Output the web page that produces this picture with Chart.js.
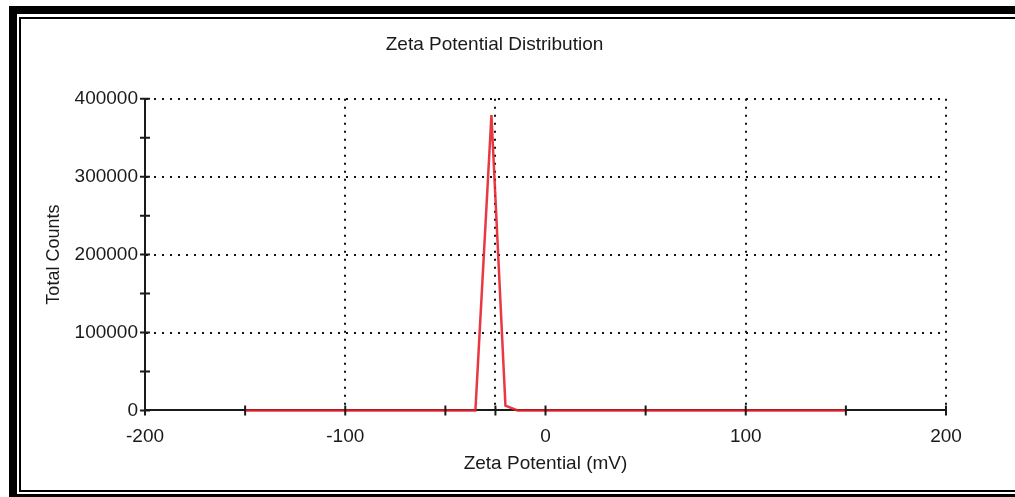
<!DOCTYPE html>
<html>
<head>
<meta charset="utf-8">
<script src="https://cdn.jsdelivr.net/npm/chart.js@4.4.1/dist/chart.umd.min.js"></script>
<style>
    body { margin: 0; background: #fff; overflow: hidden; width: 1015px; height: 497px; position: relative; }
    .frame-outer { position: absolute; left: 9px; top: 6px; width: 1100px; height: 496px; border: 8px solid #000; border-right: none; box-sizing: border-box; }
    .frame-inner { position: absolute; left: 19px; top: 17px; width: 1100px; height: 475px; border: 2px solid #000; border-right: none; box-sizing: border-box; }
    #chart1 { position: absolute; left: 0; top: 0; }
</style>
</head>
<body>
<div class="frame-outer"></div>
<div class="frame-inner"></div>
<canvas id="chart1" width="990" height="497"></canvas>
<script>
// data
const zetaMv = [-150, -35, -27, -20, -14, 150];
const totalCounts = [0, 0, 379000, 6000, 0, 0];

// x axis
const xLabels = [-200, -100, 0, 100, 200];
const xMinorTicks = [-150, -50, -25, 50, 150];
const xGrid = [-100, -25, 100, 200];

// y axis
const yLabels = [0, 100000, 200000, 300000, 400000];
const yMinorTicks = [50000, 150000, 250000, 350000];
const yGrid = [100000, 200000, 300000, 400000];

const fontName = "'Liberation Sans', Arial, sans-serif";
const textColor = '#1a1a1a';

window.onload = function () {
    const ctx = document.getElementById('chart1').getContext('2d');

    ////////////////// tick marks crossing the axes //////////////////
    const crossTicks = {
        id: 'crossTicks',
        afterDraw(chart) {
            const c = chart.ctx;
            const area = chart.chartArea;
            const x = chart.scales.x;
            const y = chart.scales.y;
            c.save();
            c.strokeStyle = textColor;
            c.lineWidth = 2;
            c.beginPath();
            x.ticks.forEach(t => {
                const px = x.getPixelForValue(t.value);
                c.moveTo(px, area.bottom - 5);
                c.lineTo(px, area.bottom + 5);
            });
            y.ticks.forEach(t => {
                const py = y.getPixelForValue(t.value);
                c.moveTo(area.left - 5, py);
                c.lineTo(area.left + 5, py);
            });
            c.stroke();
            c.restore();
        }
    };

    const data1 = {
        datasets: [{
            label: 'Total Counts',
            data: zetaMv.map((v, i) => ({ x: v, y: totalCounts[i] })),
            borderColor: 'rgba(230, 35, 45, 0.9)',
            borderWidth: 2.5,
            pointRadius: 0,
            tension: 0,
            clip: false
        }]
    };

    const config1 = {
        type: 'line',
        data: data1,
        plugins: [crossTicks],
        options: {
            responsive: false,
            devicePixelRatio: 1,
            animation: false,
            layout: {
                padding: { left: 43, right: 44, top: 0, bottom: 19 }
            },
            plugins: {
                legend: { display: false },
                tooltip: { enabled: false },
                title: {
                    display: true,
                    text: 'Zeta Potential Distribution',
                    color: textColor,
                    font: { family: fontName, size: 19, weight: 'normal' },
                    padding: { top: 33, bottom: 43 }
                }
            },
            scales: {
                x: {
                    type: 'linear',
                    min: -200,
                    max: 200,
                    z: 1,
                    afterBuildTicks: scale => {
                        scale.ticks = xLabels.concat(xMinorTicks).sort((a, b) => a - b).map(v => ({ value: v }));
                    },
                    ticks: {
                        autoSkip: false,
                        maxRotation: 0,
                        padding: 15,
                        color: textColor,
                        font: { family: fontName, size: 19 },
                        callback: v => xLabels.includes(v) ? String(v) : ''
                    },
                    grid: {
                        drawTicks: false,
                        lineWidth: 2,
                        color: c => (c.tick && xGrid.includes(c.tick.value)) ? '#111' : 'transparent'
                    },
                    border: { display: true, color: textColor, width: 2, dash: [2, 6] },
                    title: {
                        display: true,
                        text: 'Zeta Potential (mV)',
                        color: textColor,
                        font: { family: fontName, size: 19 },
                        padding: { top: -11, bottom: 3 }
                    }
                },
                y: {
                    min: 0,
                    max: 400000,
                    z: 1,
                    afterBuildTicks: scale => {
                        scale.ticks = yLabels.concat(yMinorTicks).sort((a, b) => a - b).map(v => ({ value: v }));
                    },
                    afterFit: scale => { scale.width = 102; },
                    ticks: {
                        autoSkip: false,
                        padding: 7,
                        color: textColor,
                        font: { family: fontName, size: 19 },
                        callback: v => yLabels.includes(v) ? String(v) : ''
                    },
                    grid: {
                        drawTicks: false,
                        lineWidth: 2,
                        color: c => (c.tick && yGrid.includes(c.tick.value)) ? '#111' : 'transparent'
                    },
                    border: { display: true, color: textColor, width: 2, dash: [2, 6] },
                    title: {
                        display: true,
                        text: 'Total Counts',
                        color: textColor,
                        font: { family: fontName, size: 18 },
                        padding: { top: 0, bottom: 0 }
                    }
                }
            }
        }
    };

    new Chart(ctx, config1);
};
</script>
</body>
</html>
